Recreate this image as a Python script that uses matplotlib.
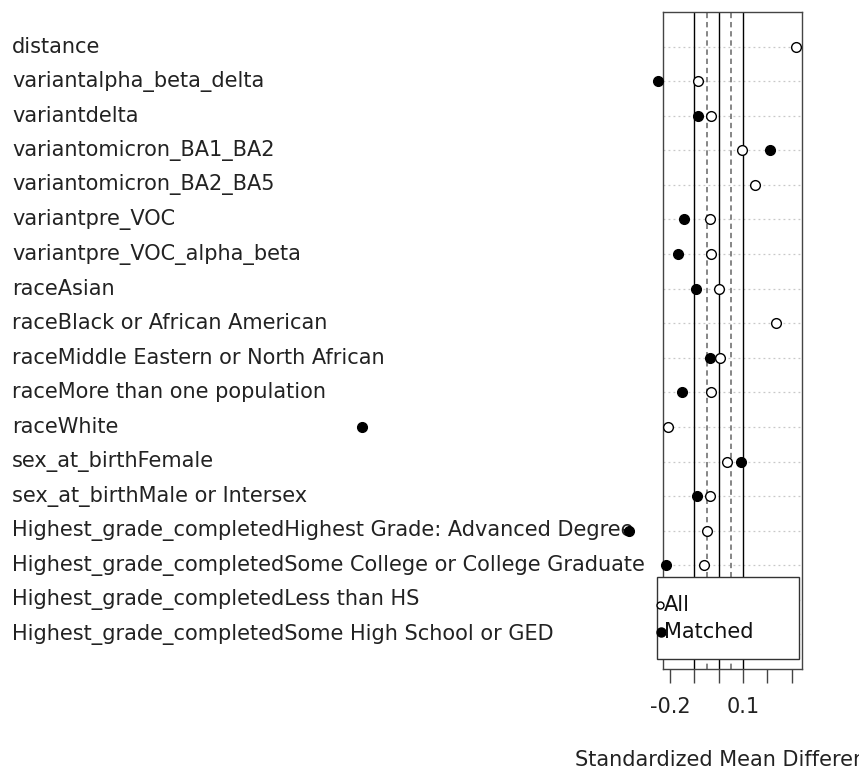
import numpy as np
import matplotlib
matplotlib.use("Agg")
import matplotlib.pyplot as plt
from matplotlib.patches import Rectangle
from matplotlib.transforms import blended_transform_factory

covariates = [
    "distance",
    "variantalpha_beta_delta",
    "variantdelta",
    "variantomicron_BA1_BA2",
    "variantomicron_BA2_BA5",
    "variantpre_VOC",
    "variantpre_VOC_alpha_beta",
    "raceAsian",
    "raceBlack or African American",
    "raceMiddle Eastern or North African",
    "raceMore than one population",
    "raceWhite",
    "sex_at_birthFemale",
    "sex_at_birthMale or Intersex",
    "Highest_grade_completedHighest Grade: Advanced Degree",
    "Highest_grade_completedSome College or College Graduate",
    "Highest_grade_completedLess than HS",
    "Highest_grade_completedSome High School or GED",
]

# standardized mean differences before / after matching
smd_all = [0.319, -0.084, -0.030, 0.095, 0.151, -0.034, -0.030, 0.002, 0.234,
           0.005, -0.033, -0.208, 0.032, -0.034, -0.048, -0.060, -0.050, -0.040]
smd_matched = [np.nan, -0.250, -0.087, 0.209, np.nan, -0.142, -0.168, -0.095, np.nan,
               -0.036, -0.151, -1.467, 0.092, -0.091, -0.369, -0.217, -0.100, -0.090]

x_ticks = [-0.2, -0.1, 0.0, 0.1, 0.2, 0.3]
x_ticklabels = ["-0.2", "", "", "0.1", "", ""]
threshold_solid = [-0.1, 0.0, 0.1]
threshold_dashed = [-0.05, 0.05]

FS = 15
W, H = 859, 769
fig = plt.figure(figsize=(W / 100, H / 100), dpi=100)
plt.rcParams['font.family'] = ['DejaVu Sans']

# plot box in pixel coordinates
left, right, top, bottom = 663, 801.7, 12, 669
ax = fig.add_axes([left / W, 1 - bottom / H, (right - left) / W, (bottom - top) / H])

n = len(covariates)
ypos = np.arange(n, 0, -1)

ax.set_xlim(-0.2294, 0.3413)
ax.set_ylim(0, n + 1)

for s in ax.spines.values():
    s.set_color('#444444')
    s.set_linewidth(1.0)

# horizontal guide lines per covariate
for y in ypos:
    ax.axhline(y, color='#c8c8c8', lw=0.9, ls=(0, (1.5, 2.5)), zorder=1)

for v in threshold_solid:
    ax.axvline(v, color='black', lw=1.0, zorder=2)
for v in threshold_dashed:
    ax.axvline(v, color='#666666', lw=1.1, ls=(0, (3.5, 2.5)), zorder=2)

ax.plot(smd_matched, ypos, 'o', ms=7, mfc='black', mec='black', mew=1,
        ls='none', clip_on=False, zorder=4)
ax.plot(smd_all, ypos, 'o', ms=7, mfc='white', mec='black', mew=1,
        ls='none', clip_on=False, zorder=5)

ax.set_yticks([])
ax.set_xticks(x_ticks)
ax.set_xticklabels(x_ticklabels, fontsize=FS, color='#222222')
ax.tick_params(axis='x', direction='out', length=10, width=1, color='#444444', pad=10)
fig.text(733 / W, 1 - 760 / H, "Standardized Mean Difference", ha='center', va='center',
         fontsize=FS, color='#222222')

# covariate names on the left
tr = blended_transform_factory(fig.transFigure, ax.transData)
for name, y in zip(covariates, ypos):
    ax.text(12 / W, y, name, transform=tr, ha='left', va='center', fontsize=FS,
            color='#222222', zorder=3)

# legend box
ftr = fig.transFigure
fig.patches.append(Rectangle((657.3 / W, 1 - 659.3 / H), (799 - 657.3) / W, (659.3 - 577.3) / H,
                             transform=ftr, facecolor='white', edgecolor='#333333', lw=1.0,
                             zorder=10))
fig.lines.append(plt.Line2D([660 / W], [1 - 605 / H], transform=ftr, marker='o', ms=5,
                            mfc='white', mec='black', mew=1, ls='none', zorder=11))
fig.lines.append(plt.Line2D([660.5 / W], [1 - 632 / H], transform=ftr, marker='o', ms=6.5,
                            mfc='black', mec='black', mew=1, ls='none', zorder=11))
fig.text(664 / W, 1 - 605 / H, "All", ha='left', va='center', fontsize=FS, color='#111111',
         zorder=12)
fig.text(664 / W, 1 - 632 / H, "Matched", ha='left', va='center', fontsize=FS,
         color='#111111', zorder=12)

fig.savefig("out.png", dpi=100)
